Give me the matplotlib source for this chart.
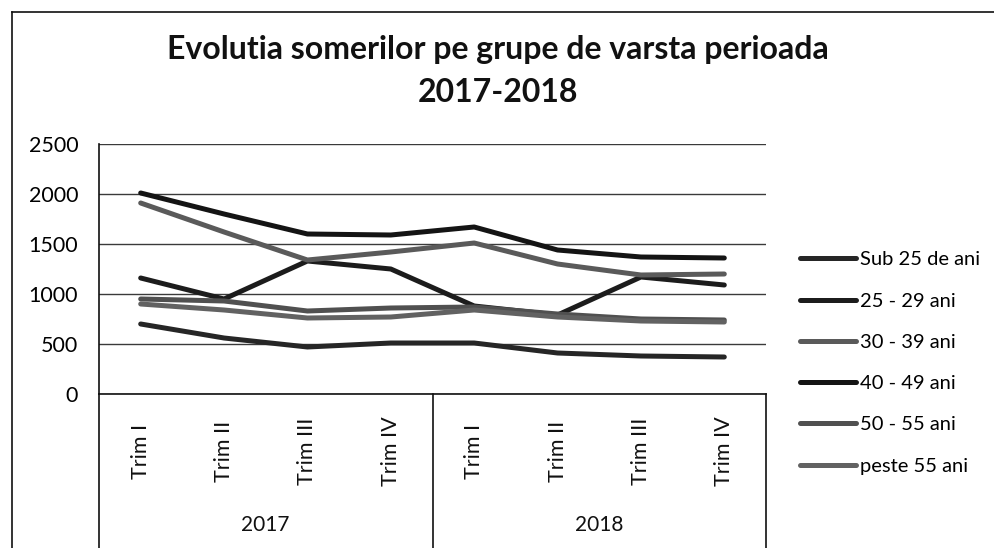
import matplotlib
matplotlib.use("Agg")
import matplotlib.pyplot as plt
from matplotlib.lines import Line2D
import matplotlib.transforms as mtransforms

plt.rcParams['font.family'] = ['Lato', 'DejaVu Sans']

title = "Evolutia somerilor pe grupe de varsta perioada\n2017-2018"
quarters = ["Trim I", "Trim II", "Trim III", "Trim IV", "Trim I", "Trim II", "Trim III", "Trim IV"]
years = ["2017", "2018"]
series_names = ["Sub 25 de ani", "25 - 29 ani", "30 - 39 ani", "40 - 49 ani", "50 - 55 ani", "peste 55 ani"]

sub25 = [700, 560, 470, 510, 510, 410, 380, 370]
a25_29 = [1160, 950, 1330, 1250, 880, 790, 1170, 1090]
a30_39 = [1910, 1620, 1340, 1420, 1510, 1300, 1190, 1200]
a40_49 = [2010, 1800, 1600, 1590, 1670, 1440, 1370, 1360]
a50_55 = [950, 930, 830, 860, 870, 800, 750, 740]
peste55 = [900, 840, 760, 770, 840, 770, 730, 720]

values = [sub25, a25_29, a30_39, a40_49, a50_55, peste55]
colors = ["#262626", "#1c1c1c", "#5a5a5a", "#141414", "#505050", "#626262"]

W, H = 994, 548
fig = plt.figure(figsize=(W / 100, H / 100), dpi=100)
fig.patch.set_facecolor("white")

left, right, top, bottom = 99, 766, 144, 394
ax = fig.add_axes([left / W, 1 - bottom / H, (right - left) / W, (bottom - top) / H])

x = list(range(len(quarters)))
handles = []
for name, vals, c in zip(series_names, values, colors):
    ln, = ax.plot(x, vals, color=c, lw=3.6, solid_capstyle="round", solid_joinstyle="round", label=name, zorder=3)
    handles.append(ln)

ax.set_xlim(-0.5, len(quarters) - 0.5)
ax.set_ylim(0, 2500)
ax.set_yticks(range(0, 2501, 500))
ax.tick_params(axis="y", length=0, pad=15, labelsize=15.5)
ax.set_xticks([])
ax.yaxis.grid(True, color="#3a3a3a", lw=1.0, zorder=1)
for s in ["top", "right"]:
    ax.spines[s].set_visible(False)
ax.spines["left"].set_color("#111")
ax.spines["bottom"].set_color("#111")
ax.spines["left"].set_linewidth(1.2)
ax.spines["bottom"].set_linewidth(1.2)

# multi-level category axis
trans = mtransforms.blended_transform_factory(ax.transData, fig.transFigure)
for i, q in enumerate(quarters):
    ax.text(i, 1 - 451 / H, q, transform=trans, rotation=90, ha="center", va="center",
            fontsize=15.5, color="#111")
for j, yr in enumerate(years):
    ax.text(j * 4 + 1.5, 1 - 525 / H, yr, transform=trans, ha="center", va="center",
            fontsize=15, color="#111")
for xa in [0, 0.5, 1.0]:
    ax.add_line(Line2D([xa, xa], [0, -0.62], transform=ax.transAxes, color="#111",
                       lw=1.2, clip_on=False))

# outer chart border (left and top)
fig.add_artist(Line2D([12 / W, 12 / W], [0, 1 - 12 / H], transform=fig.transFigure, color="#111", lw=1.2))
fig.add_artist(Line2D([12 / W, 1], [1 - 12 / H, 1 - 12 / H], transform=fig.transFigure, color="#111", lw=1.2))

fig.text(498 / W, 1 - 71 / H, title, ha="center", va="center", fontsize=23,
         fontweight="bold", linespacing=1.62, color="#111")

fig.legend(handles=handles, loc="center left", bbox_to_anchor=(800 / W, 1 - 363 / H),
           frameon=False, fontsize=14.5, handlelength=2.8, handletextpad=0.2,
           labelspacing=1.2, borderpad=0, borderaxespad=0)

fig.savefig("out.png", dpi=100, facecolor="white")
